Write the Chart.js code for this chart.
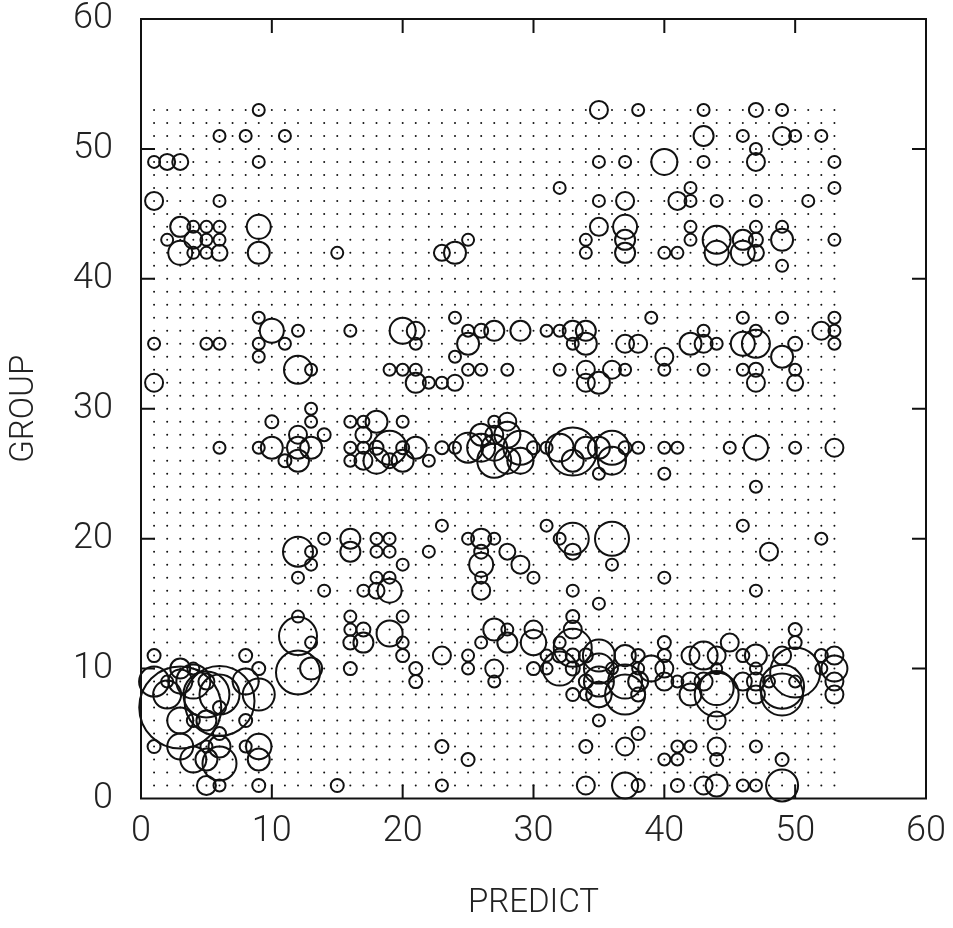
<!DOCTYPE html>
<html><head><meta charset="utf-8">
<style>html,body{margin:0;padding:0;background:#fff}#w{width:953px;height:928px}</style>
<script src="https://cdn.jsdelivr.net/npm/chart.js@4"></script>
</head><body><div id="w"><canvas id="c" width="953" height="928"></canvas></div>
<script>
// Reading triples: [PREDICT, GROUP, size]
const bandLow = [
[5,1,9.5],[6,1,6],[9,1,6.5],[15,1,6.5],[23,1,6],[34,1,9],[37,1,13],[38,1,6.5],[41,1,6.5],[43,1,9],[44,1,11],[46,1,6],[47,1,6],[49,1,16],
[4,3,13],[5,3,11],[6,2.7,17],[9,3,11],[25,3,6.5],[40,3,6],[41,3,6],[44,3,6.5],[49,3,6.5],
[1,4,6.5],[3,4,13],[5,4,6],[6,4,11],[8,4,6],[9,4,12.7],[23,4,6.5],[34,4,6.5],[37,4,9],[41,4,6],[42,4,6],[44,4,9],[47,4,6],
[6,5,6.5],[38,5,6.5],
[3,6,13],[4,6,6.5],[5,6,10],[8,6,6.5],[35,6,6],[44,6,9]
];
const bandCluster = [
[3,7,41],[6,7.5,35],[6,7,6.5],[2,8,14],[5,8,23],[6,8,20],[9,8,16],
[1,9,15],[2,9,6],[3,9,12],[4,9,17],[5,9,8],[8,9,13],
[3,10,10],[4,10,6],[9,10,6.5],[1,11,6.5],[8,11,6.5],
[12,9.7,22],[13,10,11],[16,10,6.5],[12,12.5,19],[13,12,6],[12,14,6],
[16,14,6],[20,14,6],[16,13,6],[17,13,7],[19,12.7,13],[16,12,7],[17,12,10],[20,12,6],[20,11,6.5],
[21,10,6.5],[21,9,6.5],[23,11,9],[25,11,6],[25,10,6],[27,13,11],[26,12,6],[27,10,9],[27,9,6],[28,13,6],[28,12,10]
];
const bandRight = [
[33,14,6.5],[33,13,9],[33,11.6,19],[30,13,9],[30,12,12.7],[31,11,6],[30,10,6.5],[31,10,6],[32,10,17],[32,12,6],[32,11,7],[33,11,7],[34,11,7],[33,10,7],
[35,11,16],[35,10,15],[34,9,7],[33,8,6.5],[34,8,6],[35,8,12.7],[35,9,15],[36,10,6],[37,11,10.7],[38,11,6.5],[37,9,17],[37,8,20],[38,10,6],[38,9,10],[38,8,7],
[39,10,13],[40,12,6.5],[40,11,6.5],[40,10,9],[40,9,9],[41,9,6],[42,9,9],[42,8,11],[42,11,9],[43,11,14],[44,11,9],[45,12,9],[43,9,9],[44,10,5.5],[44,8.5,17],[44,8,22],
[46,11,6.5],[46,9,9],[47,11,11],[47,10,6],[47,9,9],[47,8,9],[48,9,6],[49,11,9],[49,8.6,22],[49,8,21],[50,9.7,25],[50,9,6],[50,12,6.5],[50,13,6.5],
[52,11,6.5],[52,10,6],[53,11,9],[53,10,13],[53,9,9],[53,8,9]
];
const bandTwenty = [
[23,21,6],[31,21,6],[46,21,6],
[14,20,6],[16,20,10],[18,20,6],[19,20,6],[25,20,6],[26,20,10],[27,20,6],[32,20,6],[33,20,16],[36,20,17],[52,20,6],
[12,19,15],[13,19,6],[16,19,10],[18,19,6],[19,19,6],[22,19,6],[26,19,7],[28,19,8],[33,19,8],[48,19,9],
[13,18,6],[20,18,6],[26,18,12],[29,18,9],[36,18,6],
[12,17,6],[18,17,6],[19,17,6],[26,17,6],[30,17,6],[40,17,6],
[14,16,6],[17,16,6],[18,16,8],[19,16,12],[26,16,9],[33,16,6],[47,16,6],[35,15,6]
];
const bandThirty = [
[13,30,6],[13,29,6],[10,29,6.5],[14,28,6.5],[12,28,9],[9,27,6],[10,27,11],[12,27,11],[13,27,11],[11,26,6.5],[12,26,11],
[16,29,6],[17,29,6],[18,29,11],[20,29,6],[17,28,8],[16,27,6],[17,27,6],[19,27,17],[21,27,11],[18,27,7],[20,27,6.5],
[16,26,6],[17,26,9],[18,26,13],[19,26,7.5],[20,26,11],[22,26,6],[23,27,6.5],[24,27,6],[25,27,15],[26,27,14],[26,28,11],
[27,29,6],[28,29,9],[27,28,9],[28,28,13],[27,26,17],[27,27,13],[28,26,13],[29,27,17],[29,26,13],[30,27,6.5],[31,27,6],
[33,26.7,24],[32,27,14],[33,26,11],[34,27,11],[35,27,11],[36,26,14],[36,27,17],[37,27,6.5],[38,27,6],[35,25,6],
[40,27,6],[40,25,6],[41,27,6],[45,27,6],[47,27,12],[47,24,6],[50,27,6],[53,27,9],[6,27,6]
];
const bandForty = [
[9,37,6],[24,37,6],[39,37,6],[46,37,6],[49,37,6],[53,37,6],
[10,36,12],[12,36,6],[16,36,6],[20,36,13],[21,36,9],[25,36,6],[26,36,7],[27,36,10],[29,36,10],[31,36,6],[32,36,6],[33,36,10],[34,36,10],[43,36,6],[47,36,6],[52,36,9],[53,36,6],
[1,35,6],[5,35,6],[6,35,6],[9,35,6],[11,35,6],[21,35,6],[25,35,11],[33,35,6],[34,35,11],[37,35,9],[38,35,9],[42,35,11],[43,35,9],[44,35,6],[46,35,12],[47,35,14],[50,35,7],[53,35,6],
[9,34,6],[24,34,6],[40,34,9],[49,34,11],
[12,33,14],[13,33,6],[19,33,6],[20,33,6],[21,33,6],[25,33,6],[26,33,6],[28,33,6],[32,33,6],[34,33,9],[36,33,9],[37,33,6],[40,33,6],[43,33,6],[46,33,6],[47,33,7],[50,33,6],
[1,32,9],[21,32,10],[22,32,6],[23,32,6],[24,32,8],[34,32,9],[35,32,11],[47,32,9],[50,32,8]
];
const bandHigh = [
[9,53,6],[35,53,9],[38,53,6],[43,53,6],[47,53,7],[49,53,6],
[6,51,6],[8,51,6],[11,51,6],[43,51,10],[46,51,6],[49,51,9],[50,51,6],[52,51,6],[47,50,6],
[1,49,6],[2,49,8],[3,49,8],[9,49,6],[35,49,6],[37,49,6],[40,49,13],[43,49,6],[47,49,9],[53,49,6],
[32,47,6],[42,47,6],[53,47,6],
[1,46,9],[6,46,6],[35,46,6],[37,46,9],[41,46,9],[42,46,6],[44,46,6],[47,46,6],[51,46,6],
[3,44,10],[4,44,6],[5,44,6],[6,44,6],[9,44,12],[35,44,9],[37,44,12],[42,44,6],[47,44,6],[49,44,6],
[2,43,6],[4,43,9],[5,43,6],[6,43,6],[25,43,6],[34,43,6],[37,43,10],[42,43,6],[44,43,14],[46,43,10],[47,43,7],[49,43,11],[53,43,6],
[3,42,12],[4,42,6],[5,42,6],[6,42,8],[9,42,11],[15,42,6],[23,42,8],[24,42,11],[34,42,6],[37,42,10],[40,42,6],[41,42,6],[44,42,12],[46,42,12],[47,42,8],
[49,41,6]
];
const latticeX = [1,2,3,4,5,6,7,8,9,10,11,12,13,14,15,16,17,18,19,20,21,22,23,24,25,26,27,28,29,30,31,32,33,34,35,36,37,38,39,40,41,42,43,44,45,46,47,48,49,50,51,52,53];
const latticeY = latticeX;
const tickValues = [0,10,20,30,40,50,60];
const xTitle = "PREDICT";
const yTitle = "GROUP";

const FONT = "Roboto, 'Liberation Sans', Arial, sans-serif";
const bubbles = [...bandLow,...bandCluster,...bandRight,...bandTwenty,...bandThirty,...bandForty,...bandHigh]
  .map(([x,y,r])=>({x,y,r}));
const lattice = [];
latticeY.forEach(y=>latticeX.forEach(x=>lattice.push({x,y})));

const frame = {
  id:'frame',
  afterDraw(ch){
    const {ctx,chartArea:a,scales:{x,y}} = ch;
    ctx.save();
    ctx.strokeStyle='#111';ctx.lineWidth=2;
    ctx.strokeRect(a.left,a.top,a.right-a.left,a.bottom-a.top);
    const L=14;
    ctx.beginPath();
    tickValues.slice(1,-1).forEach(v=>{
      const px=x.getPixelForValue(v),py=y.getPixelForValue(v);
      ctx.moveTo(px,a.bottom);ctx.lineTo(px,a.bottom-L);
      ctx.moveTo(px,a.top);ctx.lineTo(px,a.top+L);
      ctx.moveTo(a.left,py);ctx.lineTo(a.left+L,py);
      ctx.moveTo(a.right,py);ctx.lineTo(a.right-L,py);
    });
    ctx.stroke();ctx.restore();
  }
};
const axis = (title,pad)=>({
  type:'linear',min:0,max:60,
  grid:{display:false,drawTicks:false},
  border:{display:false},
  afterBuildTicks(s){s.ticks=tickValues.map(value=>({value}));},
  ticks:{color:'#222',font:{family:FONT,size:36,weight:'300'},padding:pad,maxRotation:0,autoSkip:false},
  title:{display:true,text:title,color:'#222',font:{family:FONT,size:33,weight:'300',lineHeight:1.2},padding:{top:5,bottom:4}}
});
const xAxis = axis(xTitle,12);
xAxis.afterFit=s=>{s.height=129.5;s.paddingLeft=0;s.paddingRight=0;s.paddingTop=0;s.paddingBottom=0;};
const yAxis = axis(yTitle,28);
yAxis.afterFit=s=>{s.width=141;s.paddingLeft=0;s.paddingRight=0;s.paddingTop=0;s.paddingBottom=0;};

new Chart(document.getElementById('c'),{
  type:'bubble',
  data:{datasets:[
    {type:'scatter',data:lattice,pointRadius:1,pointBackgroundColor:'#111',pointBorderWidth:0,showLine:false,order:2},
    {data:bubbles,borderColor:'#111',borderWidth:2,backgroundColor:'rgba(0,0,0,0)',clip:false,order:1}
  ]},
  plugins:[frame],
  options:{
    responsive:false,animation:false,
    layout:{autoPadding:false,padding:{top:19,right:27,bottom:0,left:0}},
    plugins:{legend:{display:false},tooltip:{enabled:false}},
    events:[],
    scales:{x:xAxis,y:yAxis}
  }
});
</script></body></html>
